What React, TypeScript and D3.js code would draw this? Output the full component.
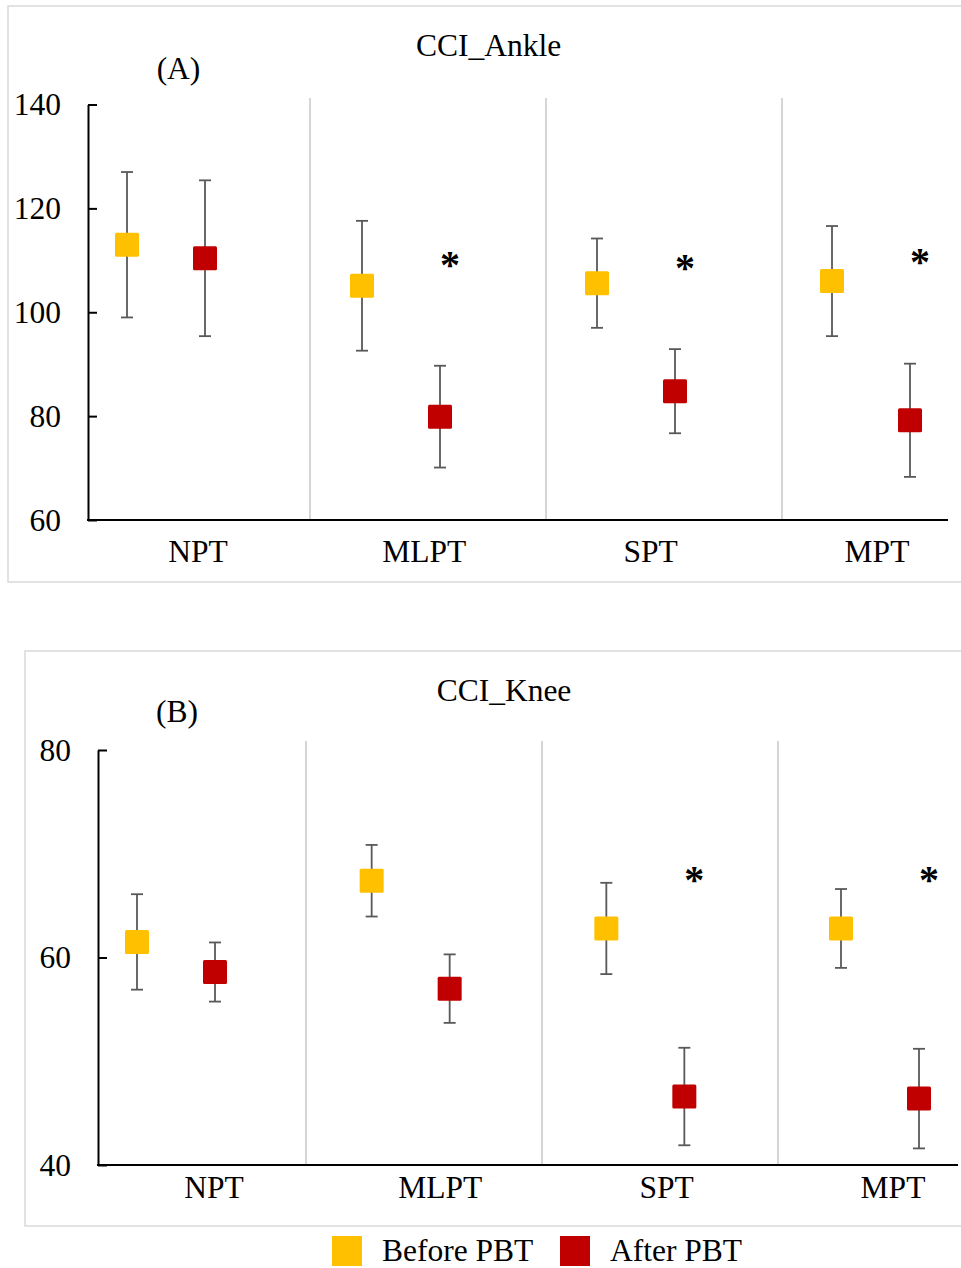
import React, { useEffect, useRef } from "react";
import * as d3 from "d3";

// categories / series
const categories = ["NPT", "MLPT", "SPT", "MPT"];
const seriesNames = ["Before PBT", "After PBT"];
const seriesColors = ["#FFC000", "#C00000"];

// CCI_Ankle (A)
const ankleBefore = [113.0, 105.1, 105.6, 106.0];
const ankleBeforeErr = [14.0, 12.5, 8.6, 10.6];
const ankleAfter = [110.4, 79.9, 84.8, 79.2];
const ankleAfterErr = [15.0, 9.8, 8.1, 10.9];
const ankleStars = [null, 110.0, 109.4, 110.6];
const ankleTicks = [60, 80, 100, 120, 140];

// CCI_Knee (B)
const kneeBefore = [61.5, 67.4, 62.8, 62.8];
const kneeBeforeErr = [4.6, 3.45, 4.4, 3.8];
const kneeAfter = [58.6, 57.0, 46.6, 46.4];
const kneeAfterErr = [2.85, 3.3, 4.7, 4.8];
const kneeStars = [null, null, 68.0, 68.0];
const kneeTicks = [40, 60, 80];

const FONT = "'Liberation Serif', 'Times New Roman', serif";
const FS = "31.5px";

const App = () => {
    const chartRef = useRef(null);

    useEffect(() => {
        d3.select(chartRef.current).select("svg").remove();

        const svg = d3
            .select(chartRef.current)
            .append("svg")
            .attr("width", 961)
            .attr("height", 1268)
            .style("position", "absolute")
            .style("left", "0px")
            .style("top", "0px")
            .style("background", "#fff");

        const panels = [
            {
                title: "CCI_Ankle", letter: "(A)",
                box: [8, 6, 963, 582],
                axisX: 88, axisEnd: 948, yPix: [520, 104.5], sepTop: 98,
                domain: [60, 140], ticks: ankleTicks,
                groupRange: [166, 871], sepRange: [310, 782], labelRange: [198, 877], labelY: 562,
                titlePos: [488.5, 56], letterPos: [178.5, 79],
                before: ankleBefore, beforeErr: ankleBeforeErr,
                after: ankleAfter, afterErr: ankleAfterErr, stars: ankleStars,
            },
            {
                title: "CCI_Knee", letter: "(B)",
                box: [25, 651, 963, 1226],
                axisX: 98, axisEnd: 958, yPix: [1165, 750], sepTop: 741,
                domain: [40, 80], ticks: kneeTicks,
                groupRange: [176, 880], sepRange: [306, 778], labelRange: [214, 893], labelY: 1198,
                titlePos: [504, 701], letterPos: [177, 722],
                before: kneeBefore, beforeErr: kneeBeforeErr,
                after: kneeAfter, afterErr: kneeAfterErr, stars: kneeStars,
            },
        ];

        panels.forEach((p) => {
            const g = svg.append("g");

            // panel border
            g.append("rect")
                .attr("x", p.box[0])
                .attr("y", p.box[1])
                .attr("width", p.box[2] - p.box[0])
                .attr("height", p.box[3] - p.box[1])
                .attr("fill", "none")
                .attr("stroke", "#d9d9d9")
                .attr("stroke-width", 1.5);

            const y = d3.scaleLinear().domain(p.domain).range(p.yPix);
            const xGroup = d3.scalePoint().domain(categories).range(p.groupRange);
            const xSeries = d3.scalePoint().domain(seriesNames).range([-39, 39]);
            const xSep = d3.scalePoint().domain([1, 2, 3]).range(p.sepRange);
            const xLabel = d3.scalePoint().domain(categories).range(p.labelRange);

            // separators
            g.selectAll(".sep")
                .data([1, 2, 3])
                .enter()
                .append("line")
                .attr("x1", (d) => xSep(d))
                .attr("x2", (d) => xSep(d))
                .attr("y1", p.sepTop)
                .attr("y2", p.yPix[0])
                .attr("stroke", "#bfbfbf")
                .attr("stroke-width", 1.3);

            // y axis (ticks pointing inward)
            const yAxis = g
                .append("g")
                .attr("transform", `translate(${p.axisX},0)`)
                .call(
                    d3.axisLeft(y)
                        .tickValues(p.ticks)
                        .tickSizeInner(-9)
                        .tickSizeOuter(0)
                        .tickPadding(27)
                );
            yAxis.select(".domain").attr("stroke", "#000").attr("stroke-width", 2);
            yAxis.selectAll(".tick line").attr("stroke", "#000").attr("stroke-width", 2);
            yAxis.selectAll(".tick text")
                .attr("fill", "#000")
                .style("font-family", FONT)
                .style("font-size", FS);

            // x axis line
            g.append("line")
                .attr("x1", p.axisX - 1)
                .attr("x2", p.axisEnd)
                .attr("y1", y(p.domain[0]))
                .attr("y2", y(p.domain[0]))
                .attr("stroke", "#000")
                .attr("stroke-width", 2);

            // category labels
            g.selectAll(".cat")
                .data(categories)
                .enter()
                .append("text")
                .attr("x", (d) => xLabel(d))
                .attr("y", p.labelY)
                .attr("text-anchor", "middle")
                .style("font-family", FONT)
                .style("font-size", FS)
                .text((d) => d);

            // titles
            g.append("text")
                .attr("x", p.titlePos[0])
                .attr("y", p.titlePos[1])
                .attr("text-anchor", "middle")
                .style("font-family", FONT)
                .style("font-size", FS)
                .text(p.title);
            g.append("text")
                .attr("x", p.letterPos[0])
                .attr("y", p.letterPos[1])
                .attr("text-anchor", "middle")
                .style("font-family", FONT)
                .style("font-size", FS)
                .text(p.letter);

            const pts = [];
            categories.forEach((c, i) => {
                pts.push({ c, s: seriesNames[0], v: p.before[i], e: p.beforeErr[i], col: seriesColors[0] });
                pts.push({ c, s: seriesNames[1], v: p.after[i], e: p.afterErr[i], col: seriesColors[1] });
            });
            const px = (d) => xGroup(d.c) + xSeries(d.s);

            // error bars
            const eb = g.selectAll(".err").data(pts).enter().append("g");
            eb.append("line")
                .attr("x1", px).attr("x2", px)
                .attr("y1", (d) => y(d.v - d.e)).attr("y2", (d) => y(d.v + d.e))
                .attr("stroke", "#595959").attr("stroke-width", 1.8);
            [1, -1].forEach((sgn) => {
                eb.append("line")
                    .attr("x1", (d) => px(d) - 6).attr("x2", (d) => px(d) + 6)
                    .attr("y1", (d) => y(d.v + sgn * d.e)).attr("y2", (d) => y(d.v + sgn * d.e))
                    .attr("stroke", "#595959").attr("stroke-width", 1.8);
            });

            // markers
            g.selectAll(".mk")
                .data(pts)
                .enter()
                .append("rect")
                .attr("x", (d) => px(d) - 12)
                .attr("y", (d) => y(d.v) - 12)
                .attr("width", 24)
                .attr("height", 24)
                .attr("rx", 1.5)
                .attr("fill", (d) => d.col);

            // significance asterisks
            g.selectAll(".star")
                .data(categories.filter((c, i) => p.stars[i] != null))
                .enter()
                .append("text")
                .attr("x", (d) => xGroup(d) + xSeries(seriesNames[1]) + 10)
                .attr("y", (d) => y(p.stars[categories.indexOf(d)]) + 18)
                .attr("text-anchor", "middle")
                .style("font-family", FONT)
                .style("font-size", "40px")
                .style("font-weight", "bold")
                .text("*");
        });

        // legend
        const legend = svg.append("g");
        const legendX = d3.scalePoint().domain(seriesNames).range([332, 560]);
        seriesNames.forEach((s, i) => {
            legend.append("rect")
                .attr("x", legendX(s))
                .attr("y", 1236)
                .attr("width", 30)
                .attr("height", 30)
                .attr("fill", seriesColors[i]);
            legend.append("text")
                .attr("x", legendX(s) + 50)
                .attr("y", 1261)
                .style("font-family", FONT)
                .style("font-size", FS)
                .text(s);
        });
    }, []);

    return <div ref={chartRef}></div>;
};

export default App;
